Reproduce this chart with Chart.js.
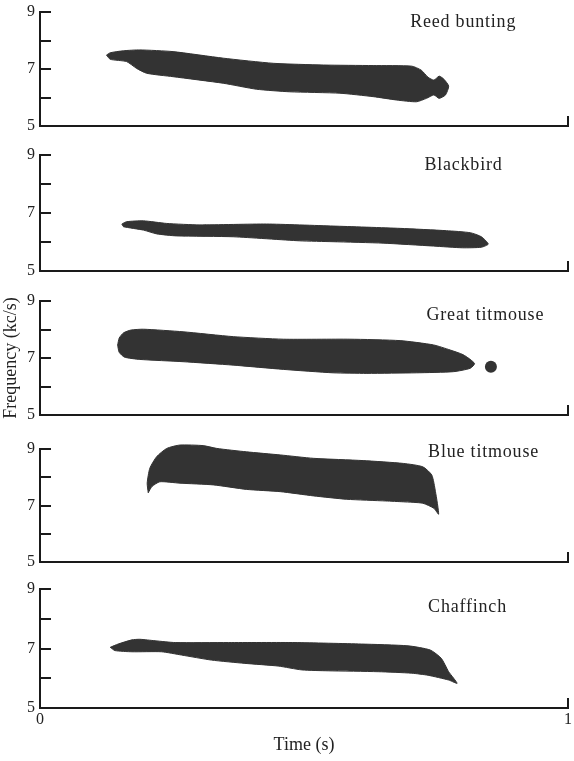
<!DOCTYPE html>
<html>
<head>
<meta charset="utf-8">
<script src="https://cdn.jsdelivr.net/npm/chart.js@4.4.1/dist/chart.umd.min.js"></script>
<style>
  html, body { margin: 0; padding: 0; background: #fff; }
  body { width: 574px; height: 761px; position: relative; overflow: hidden; }
  .painel { position: absolute; left: 0; width: 574px; }
</style>
</head>
<body>
<script>
// sonogramas: contorno superior e inferior de cada nota (tempo em s, frequência em kc/s)
const aves = ['Reed bunting', 'Blackbird', 'Great titmouse', 'Blue titmouse', 'Chaffinch'];

const reedUpperT = [0.126, 0.133, 0.158, 0.189, 0.252, 0.347, 0.442, 0.537, 0.631, 0.704, 0.722, 0.735, 0.746, 0.756, 0.765, 0.774];
const reedUpperF = [7.49, 7.57, 7.64, 7.67, 7.61, 7.38, 7.20, 7.14, 7.12, 7.10, 6.96, 6.71, 6.61, 6.75, 6.64, 6.40];
const reedLowerT = [0.126, 0.133, 0.164, 0.183, 0.202, 0.252, 0.347, 0.410, 0.473, 0.568, 0.631, 0.676, 0.713, 0.732, 0.746, 0.756, 0.768, 0.774];
const reedLowerF = [7.49, 7.34, 7.26, 7.02, 6.85, 6.73, 6.50, 6.29, 6.20, 6.15, 6.03, 5.91, 5.85, 5.97, 6.09, 5.97, 6.09, 6.40];

const blackUpperT = [0.155, 0.164, 0.196, 0.240, 0.303, 0.429, 0.555, 0.682, 0.770, 0.815, 0.836, 0.849];
const blackUpperF = [6.62, 6.70, 6.73, 6.64, 6.59, 6.62, 6.55, 6.47, 6.39, 6.32, 6.18, 5.93];
const blackLowerT = [0.155, 0.158, 0.196, 0.221, 0.259, 0.366, 0.492, 0.555, 0.650, 0.745, 0.800, 0.836, 0.849];
const blackLowerF = [6.62, 6.53, 6.41, 6.28, 6.21, 6.18, 6.04, 6.01, 5.96, 5.86, 5.80, 5.82, 5.93];

const greatUpperT = [0.147, 0.150, 0.158, 0.172, 0.196, 0.271, 0.366, 0.461, 0.587, 0.682, 0.745, 0.777, 0.802, 0.823];
const greatUpperF = [7.45, 7.70, 7.88, 7.98, 8.01, 7.92, 7.75, 7.66, 7.66, 7.61, 7.46, 7.28, 7.11, 6.81];
const greatLowerT = [0.147, 0.150, 0.160, 0.189, 0.271, 0.366, 0.461, 0.555, 0.619, 0.713, 0.783, 0.815, 0.823];
const greatLowerF = [7.45, 7.20, 7.03, 6.95, 6.87, 6.75, 6.60, 6.48, 6.46, 6.48, 6.52, 6.64, 6.81];
const greatDotT = [0.854];
const greatDotF = [6.69];

const blueUpperT = [0.205, 0.203, 0.208, 0.221, 0.240, 0.265, 0.309, 0.335, 0.391, 0.455, 0.518, 0.612, 0.688, 0.725, 0.742, 0.749, 0.755];
const blueUpperF = [7.45, 7.79, 8.32, 8.73, 9.02, 9.14, 9.12, 9.02, 8.90, 8.79, 8.67, 8.59, 8.49, 8.37, 8.08, 7.49, 6.69];
const blueLowerT = [0.205, 0.212, 0.227, 0.265, 0.328, 0.391, 0.455, 0.518, 0.581, 0.655, 0.688, 0.725, 0.746, 0.755];
const blueLowerF = [7.45, 7.67, 7.84, 7.79, 7.73, 7.57, 7.49, 7.34, 7.22, 7.16, 7.13, 7.08, 6.90, 6.69];

const chafUpperT = [0.133, 0.148, 0.174, 0.189, 0.218, 0.256, 0.357, 0.483, 0.609, 0.697, 0.739, 0.760, 0.774, 0.790];
const chafUpperF = [7.04, 7.15, 7.29, 7.31, 7.26, 7.20, 7.20, 7.20, 7.15, 7.09, 6.95, 6.67, 6.22, 5.83];
const chafLowerT = [0.133, 0.142, 0.174, 0.230, 0.268, 0.325, 0.388, 0.451, 0.496, 0.546, 0.641, 0.704, 0.735, 0.774, 0.790];
const chafLowerF = [7.04, 6.93, 6.89, 6.89, 6.78, 6.61, 6.50, 6.41, 6.28, 6.25, 6.22, 6.17, 6.10, 5.94, 5.83];

// onde fica o nome da ave (tempo, frequência da linha de base)
const rotuloT = [0.701, 0.728, 0.732, 0.735, 0.735];
const rotuloF = [8.47, 8.48, 8.33, 8.72, 8.23];

const freqTicks = [5, 7, 9];

// layout dos paineis (px)
const topoPainel = [12, 155, 301, 449, 589];
const basePainel = [126, 271, 415, 562, 708];

const corTinta = '#333333';
const corEixo = '#1a1a1a';
const fonte = '"Liberation Serif", "Times New Roman", serif';

Chart.defaults.font.family = fonte;

function contorno(ut, uf, lt, lf) {
  const pts = ut.map((t, i) => ({ x: t, y: uf[i] }));
  for (let i = lt.length - 2; i >= 0; i--) pts.push({ x: lt[i], y: lf[i] });
  return pts;
}

const formas = [
  contorno(reedUpperT, reedUpperF, reedLowerT, reedLowerF),
  contorno(blackUpperT, blackUpperF, blackLowerT, blackLowerF),
  contorno(greatUpperT, greatUpperF, greatLowerT, greatLowerF),
  contorno(blueUpperT, blueUpperF, blueLowerT, blueLowerF),
  contorno(chafUpperT, chafUpperF, chafLowerT, chafLowerF)
];

// preenche o contorno fechado sem cortar no chartArea (o Blue titmouse passa do 9)
const preencheForma = {
  id: 'preencheForma',
  afterDatasetDraw(chart, args) {
    const ds = chart.data.datasets[args.index];
    if (!ds.forma) return;
    const line = args.meta.dataset;
    if (line.updateControlPoints) line.updateControlPoints(chart.chartArea, 'x');
    const ctx = chart.ctx;
    ctx.save();
    ctx.fillStyle = ds.backgroundColor;
    ctx.beginPath();
    line.path(ctx);
    ctx.closePath();
    ctx.fill();
    ctx.restore();
  }
};

const rotuloAve = {
  id: 'rotuloAve',
  afterDatasetsDraw(chart, args, opts) {
    if (!opts.text) return;
    const { ctx, scales: { x, y } } = chart;
    ctx.save();
    ctx.font = '18px ' + fonte;
    ctx.letterSpacing = '0.8px';
    ctx.fillStyle = '#222';
    ctx.textAlign = 'left';
    ctx.textBaseline = 'alphabetic';
    ctx.fillText(opts.text, x.getPixelForValue(opts.t), y.getPixelForValue(opts.f));
    ctx.restore();
  }
};

aves.forEach((ave, i) => {
  const ultimo = i === aves.length - 1;
  const padBaixo = ultimo ? 2 : 12;
  const alturaX = ultimo ? 51 : 0;
  const div = document.createElement('div');
  div.className = 'painel';
  div.style.top = (topoPainel[i] - 12) + 'px';
  div.style.height = (12 + basePainel[i] - topoPainel[i] + alturaX + padBaixo) + 'px';
  const canvas = document.createElement('canvas');
  div.appendChild(canvas);
  document.body.appendChild(div);

  const datasets = [{
    data: formas[i],
    forma: true,
    borderColor: corTinta,
    backgroundColor: corTinta,
    borderWidth: 1,
    tension: 0.2,
    pointRadius: 0,
    clip: false
  }];
  if (i === 2) {
    datasets.push({
      data: greatDotT.map((t, k) => ({ x: t, y: greatDotF[k] })),
      showLine: false,
      pointRadius: 6,
      pointBackgroundColor: corTinta,
      pointBorderWidth: 0,
      clip: false
    });
  }

  new Chart(canvas, {
    type: 'line',
    data: { datasets },
    plugins: [preencheForma, rotuloAve],
    options: {
      responsive: true,
      maintainAspectRatio: false,
      animation: false,
      events: [],
      layout: { padding: { top: 12, right: 6, bottom: padBaixo, left: 0 } },
      elements: { line: { capBezierPoints: false } },
      plugins: {
        legend: { display: false },
        tooltip: { enabled: false },
        rotuloAve: { text: ave, t: rotuloT[i], f: rotuloF[i] }
      },
      scales: {
        x: {
          type: 'linear',
          min: 0,
          max: 1,
          afterFit: (s) => { s.height = alturaX; s.paddingLeft = 0; s.paddingRight = 5; },
          ticks: {
            display: ultimo,
            stepSize: 1,
            padding: 12,
            maxRotation: 0,
            color: '#222',
            font: { size: 16 }
          },
          grid: { drawOnChartArea: false, tickLength: -10, color: corEixo, lineWidth: 2 },
          border: { display: true, color: corEixo, width: 2 },
          title: {
            display: ultimo,
            text: 'Time (s)',
            color: '#222',
            font: { size: 18 },
            padding: { top: 0, bottom: 3 }
          }
        },
        y: {
          min: 5,
          max: 9,
          afterFit: (s) => { s.width = 40; s.paddingTop = 10; s.paddingBottom = 10; },
          ticks: {
            stepSize: 1,
            padding: 16,
            color: '#222',
            font: { size: 16 },
            callback: (v) => (freqTicks.includes(v) ? v : '')
          },
          grid: { drawOnChartArea: false, tickLength: -11, color: corEixo, lineWidth: 2 },
          border: { display: true, color: corEixo, width: 2 },
          title: {
            display: i === 2,
            text: 'Frequency (kc/s)',
            color: '#222',
            font: { size: 18 },
            padding: 0
          }
        }
      }
    }
  });
});
</script>
</body>
</html>
